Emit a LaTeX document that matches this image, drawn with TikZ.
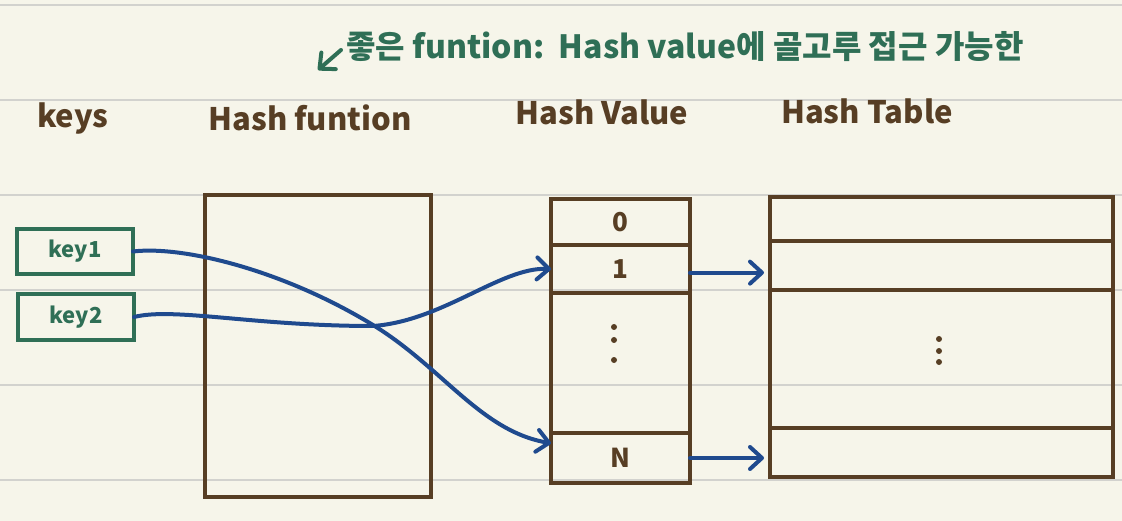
\documentclass[tikz,border=0pt]{standalone}
\usepackage{fontspec}
\setmainfont{Noto Sans CJK KR}
\usetikzlibrary{arrows.meta}
\definecolor{paper}{HTML}{F6F5EA}
\definecolor{ruleline}{HTML}{D2D2CE}
\definecolor{ink}{HTML}{573E24}
\definecolor{pen}{HTML}{2F6F56}
\definecolor{bluepen}{HTML}{1F4A8E}

\begin{document}
\begin{tikzpicture}[x=1pt,y=-1pt]
        \tikzset{cell/.style={draw=ink,line width=4pt,rectangle,inner sep=0pt,outer sep=0pt,
                text=ink,font=\fontsize{26}{26}\selectfont\bfseries},
            keybox/.style={draw=pen,line width=4pt,rectangle,inner sep=0pt,outer sep=0pt,
                minimum width=116pt,text=pen,font=\fontsize{22}{22}\selectfont\bfseries},
            title/.style={anchor=base,text=ink,inner sep=0pt,font=\fontsize{31}{31}\selectfont\bfseries},
            dot/.style={fill=ink,circle,inner sep=0pt,minimum size=6pt},
            link/.style={draw=bluepen,line width=4pt,line cap=round,
                -{Straight Barb[length=12pt,width=22pt,round]}}}
        % paper
        \fill[paper] (0,0) rectangle (1122,521);
        \useasboundingbox (0,0) rectangle (1122,521);
        \foreach \y in {5,100,195,290,385,480}
            \draw[ruleline,line width=2.5pt] (0,\y) -- (1122,\y);
        % note on top
        \node[anchor=base west,inner sep=0pt,text=pen,font=\fontsize{32}{32}\selectfont\bfseries]
            (note) at (346,59) {좋은 funtion:\ \ Hash value에 골고루 접근 가능한};
        \coordinate (notetip) at (318,70);
        \draw[pen,line width=4pt,line cap=round,-{Straight Barb[length=12pt,width=22pt,round]}]
            (341,50) -- (notetip);
        % column titles
        \node[title] (tkeys) at (73,128) {keys};
        \node[title] (tfunc) at (310,131) {Hash funtion};
        \node[title] (tvalue) at (602,125) {Hash Value};
        \node[title] (ttable) at (867,124) {Hash Table};
        % keys
        \node[keybox,minimum height=45pt] (key1) at (75,251.5) {key1};
        \node[keybox,minimum height=46pt] (key2) at (76,317) {key2};
        % hash function
        \node[cell,minimum width=226pt,minimum height=302pt] (func) at (318,346) {};
        % hash values
        \node[cell,minimum width=139pt,minimum height=46pt] (hv0) at (620.5,222) {0};
        \node[cell,minimum width=139pt,minimum height=48pt] (hv1) at (620.5,269) {1};
        \node[cell,minimum width=139pt,minimum height=140pt] (hvdots) at (620.5,363) {};
        \node[cell,minimum width=139pt,minimum height=50pt] (hvN) at (620.5,458) {N};
        \foreach \y in {327,340,360}
            \node[dot] at (614,\y) {};
        % hash table
        \node[cell,minimum width=343pt,minimum height=44pt] (ht0) at (941.5,219) {};
        \node[cell,minimum width=343pt,minimum height=49pt] (ht1) at (941.5,265.5) {};
        \node[cell,minimum width=343pt,minimum height=138pt] (htdots) at (941.5,359) {};
        \node[cell,minimum width=343pt,minimum height=49pt] (htN) at (941.5,452.5) {};
        \foreach \y in {339,351,362}
            \node[dot] at (939,\y) {};
        % links
        \draw[link] (key1.east) .. controls +(50,-6) and +(-90,-55) .. (373,325)
            .. controls +(70,43) and +(-70,-12) .. (hvN.168);
        \draw[link] (key2.east) .. controls +(40,-10) and +(-120,0) .. (373,326)
            .. controls +(70,-5) and +(-50,-2) .. (hv1.west);
        \draw[link,shorten >=6pt] (hv1.-3) -- (hv1.-3 -| ht1.west);
        \draw[link,shorten >=6pt] (hvN.east) -- (hvN.east -| htN.west);
    \end{tikzpicture}
\end{document}
